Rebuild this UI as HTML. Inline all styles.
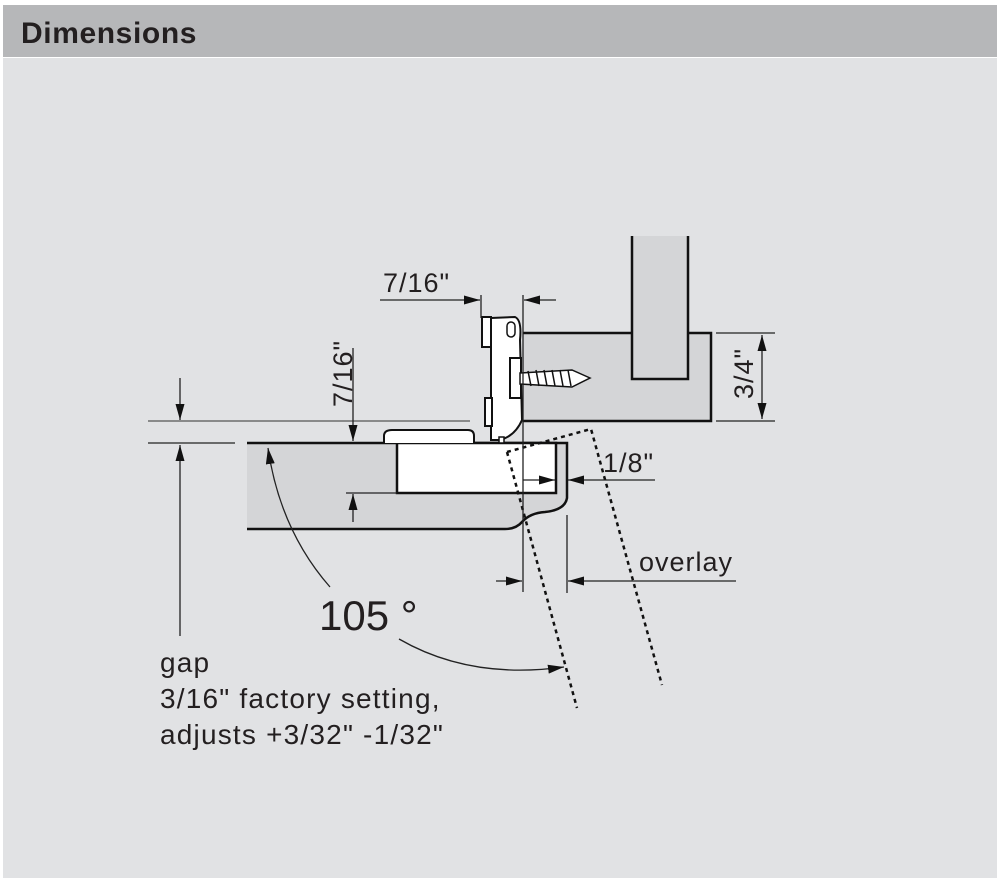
<!DOCTYPE html>
<html><head><meta charset="utf-8"><style>
html,body{margin:0;padding:0;background:#fff}
body{width:1000px;height:882px;position:relative;overflow:hidden;font-family:"Liberation Sans",Arial,sans-serif}
</style></head><body>
<svg width="1000" height="882" viewBox="0 0 1000 882" xmlns="http://www.w3.org/2000/svg" style="position:absolute;left:0;top:0">
<defs>
<marker id="a" viewBox="0 0 16 9" refX="16" refY="4.5" markerWidth="16" markerHeight="9" orient="auto" markerUnits="userSpaceOnUse"><path d="M0,0 L16,4.5 L0,9 Z" fill="#111"/></marker>
</defs>
<rect x="3" y="58" width="994" height="820" fill="#e1e2e4"/>
<rect x="3" y="5" width="994" height="52" fill="#b6b7b9"/>
<text x="21" y="43" font-size="30" font-weight="bold" letter-spacing="0.6" fill="#231f20">Dimensions</text>

<!-- frame -->
<path d="M523,333 L632,333 L632,236 L688,236 L688,333 L711,333 L711,421 L523,421 Z" fill="#d4d5d7"/>
<path d="M523,333 L632,333 M632,236 L632,379 L688,379 L688,236 M688,333 L711,333 L711,421 L523,421" fill="none" stroke="#111" stroke-width="2.5"/>
<!-- door -->
<path d="M247,443 L567,443 L567,498 Q565,510 545,512 Q530,513 522,522 Q516,529 505,529 L247,529 Z" fill="#d4d5d7"/>
<path d="M247,443 L567,443 L567,498 Q565,510 545,512 Q530,513 522,522 Q516,529 505,529 L247,529" fill="none" stroke="#111" stroke-width="2.5"/>
<rect x="397" y="443" width="159" height="50" fill="#fff" stroke="#111" stroke-width="2.5"/>
<path d="M384,443 L384,436 Q384,430 392,430 L468,430 Q474,430 474,436 L474,443" fill="#fff" stroke="#111" stroke-width="2"/>
<!-- hinge arm -->
<path d="M491,318 L515,317 Q522,320 520,340 L522,420 Q515,436 500,440 L491,440 Z" fill="#fff" stroke="#111" stroke-width="2"/>
<rect x="482" y="317" width="9" height="30" fill="#fff" stroke="#111" stroke-width="2"/>
<rect x="485" y="398" width="7" height="28" fill="#fff" stroke="#111" stroke-width="2"/>
<rect x="507" y="322" width="8" height="15" rx="4" fill="#fff" stroke="#111" stroke-width="1.5"/>
<rect x="510" y="358" width="11" height="40" fill="#fff" stroke="#111" stroke-width="2"/>
<rect x="499" y="437" width="5" height="6" fill="#fff" stroke="#111" stroke-width="1.5"/>
<!-- screw -->
<path d="M520,373 L572,370 L590,378 L572,387 L520,384 Z" fill="#fff" stroke="#111" stroke-width="1.5"/>
<path d="M528,371 l3,15 M536,370 l3,16 M544,370 l3,16 M552,370 l3,16 M560,370 l3,16 M568,370 l3,16" stroke="#111" stroke-width="1.5"/>
<!-- dashed open door -->
<path d="M507,452 L591,429 L662,685 M507,452 L577,708" fill="none" stroke="#111" stroke-width="2.5" stroke-dasharray="4,4"/>

<g stroke="#222" stroke-width="1.3" fill="none">
<line x1="148" y1="421" x2="470" y2="421" stroke="#555"/>
<line x1="148" y1="443" x2="235" y2="443"/>
<line x1="180" y1="378" x2="180" y2="420" marker-end="url(#a)"/>
<line x1="180" y1="636" x2="180" y2="445" marker-end="url(#a)"/>
<line x1="353" y1="348" x2="353" y2="441" marker-end="url(#a)"/>
<line x1="353" y1="522" x2="353" y2="494" marker-end="url(#a)"/>
<line x1="346" y1="493" x2="397" y2="493"/>
<line x1="380" y1="300" x2="480" y2="300" marker-end="url(#a)"/>
<line x1="481" y1="295" x2="481" y2="318"/>
<line x1="523" y1="295" x2="523" y2="592"/>
<line x1="556" y1="300" x2="524" y2="300" marker-end="url(#a)"/>
<line x1="716" y1="333" x2="775" y2="333"/>
<line x1="716" y1="421" x2="775" y2="421"/>
<line x1="762" y1="377" x2="762" y2="335" marker-end="url(#a)"/>
<line x1="762" y1="377" x2="762" y2="419" marker-end="url(#a)"/>
<line x1="523" y1="480" x2="555" y2="480" marker-end="url(#a)"/>
<line x1="655" y1="480" x2="568" y2="480" marker-end="url(#a)"/>
<line x1="567" y1="515" x2="567" y2="593"/>
<line x1="496" y1="581" x2="522" y2="581" marker-end="url(#a)"/>
<line x1="736" y1="581" x2="568" y2="581" marker-end="url(#a)"/>
<path d="M330,587 Q280,530 268,448" marker-end="url(#a)"/>
<path d="M399,639 Q470,680 564,667" marker-end="url(#a)"/>
</g>

<g fill="#231f20" font-size="27" letter-spacing="1">
<text x="383" y="292">7/16"</text>
<text transform="translate(352,407) rotate(-90)">7/16"</text>
<text transform="translate(753,399) rotate(-90)">3/4"</text>
<text x="603" y="472">1/8"</text>
<text x="639" y="571">overlay</text>
<text x="319" y="630" font-size="42" letter-spacing="0">105 °</text>
<g font-size="28" letter-spacing="1.2">
<text x="160" y="672">gap</text>
<text x="160" y="708">3/16" factory setting,</text>
<text x="160" y="744">adjusts +3/32" -1/32"</text>
</g>
</g>
</svg>
</body></html>
